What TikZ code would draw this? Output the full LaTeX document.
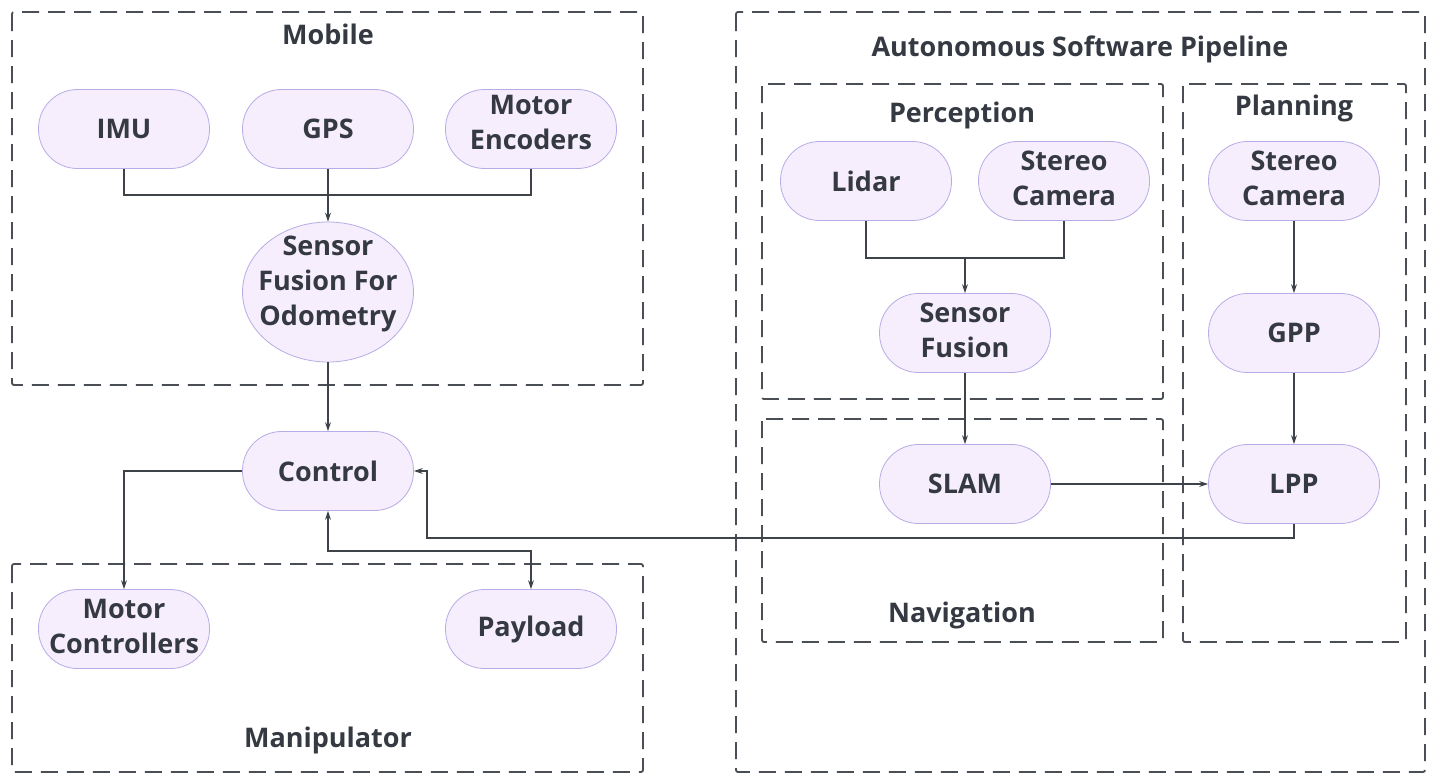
\documentclass[tikz,border=0pt]{standalone}
\usepackage{fontspec}
\setmainfont{Open Sans}
\usetikzlibrary{arrows.meta,shapes.geometric,calc}
\definecolor{ink}{HTML}{343942}
\definecolor{nodefill}{HTML}{F7EEFD}
\definecolor{nodeline}{HTML}{B6ACE6}
\definecolor{wire}{HTML}{3E4249}
\definecolor{groupline}{HTML}{4A4E55}
\tikzset{
  pill/.style={draw=nodeline, fill=nodefill, line width=0.8pt, rounded corners=39pt,
    minimum width=171pt, minimum height=79pt, inner sep=0pt, align=center,
    text=ink, font=\fontsize{27}{35}\selectfont\bfseries},
  twoline/.style={text depth=6pt},
  oval/.style={draw=nodeline, fill=nodefill, line width=0.8pt, ellipse,
    minimum width=171pt, minimum height=140pt, inner sep=0pt},
  txt/.style={text=ink, font=\fontsize{27}{35}\selectfont\bfseries, align=center, inner sep=0pt},
  group/.style={draw=groupline, line width=1.8pt, dash pattern=on 17pt off 9pt, rounded corners=2pt},
  wireline/.style={draw=wire, line width=1.3pt},
  arr/.style={wireline, -{Stealth[length=9pt,width=6pt]}},
  biarr/.style={wireline, {Stealth[length=9pt,width=6pt]}-{Stealth[length=9pt,width=6pt]}},
}
\begin{document}
\begin{tikzpicture}[x=1pt,y=-1pt]
\useasboundingbox (0,0) rectangle (1431,774);
\fill[white] (0,0) rectangle (1431,774);

% group frames
\draw[group] (12,12) rectangle (643,385);
\draw[group] (12,564) rectangle (643,772);
\draw[group] (736,12) rectangle (1425,772);
\draw[group] (762,84) rectangle (1163,399);
\draw[group] (762,419) rectangle (1163,642);
\draw[group] (1183,84) rectangle (1406,642);

% group titles
\node[txt] (tmobile) at (328,34) {Mobile};
\node[txt] (tmanip) at (328,740) {Manipulator};
\node[txt] (tauto) at (1080,49) {Autonomous Software Pipeline};
\node[txt] (tperc) at (962,115) {Perception};
\node[txt] (tnav) at (962,615) {Navigation};
\node[txt] (tplan) at (1294,108) {Planning};

% mobile sensors
\node[pill] (imu) at (124,129) {IMU};
\node[pill] (gps) at (328,129) {GPS};
\node[pill, text depth=14pt] (enc) at (531,129) {Motor\\Encoders};
\node[oval] (sfo) at (328,292) {};
\node[txt] (sfotext) at (328,284) {Sensor\\Fusion For\\Odometry};

% control and manipulator
\node[pill] (control) at (328,471) {Control};
\node[pill, twoline] (motorctl) at (124,629) {Motor\\Controllers};
\node[pill] (payload) at (531,629) {Payload};

% perception / navigation
\node[pill] (lidar) at (866,181) {Lidar};
\node[pill, twoline] (stereoA) at (1064,181) {Stereo\\Camera};
\node[pill, twoline] (fusion) at (965,333) {Sensor\\Fusion};
\node[pill] (slam) at (965,484) {SLAM};

% planning
\node[pill, twoline] (stereoB) at (1294,181) {Stereo\\Camera};
\node[pill] (gpp) at (1294,333) {GPP};
\node[pill] (lpp) at (1294,484) {LPP};

% junction points
\coordinate (jmob) at (328,195);
\coordinate (jperc) at (965,258);
\coordinate (jpay) at (531,551);
\coordinate (jret) at (427,538);

% connectors
\draw[wireline] (imu.south) |- (jmob);
\draw[wireline] (enc.south) |- (jmob);
\draw[arr] (gps.south) -- (sfo.north);
\draw[arr] (sfo.south) -- (control.north);
\draw[arr] (control.west) -| (motorctl.north);
\draw[biarr] (control.south) |- (jpay) -- (payload.north);
\draw[arr] (lpp.south) |- (jret) |- (control.east);

\draw[wireline] (lidar.south) |- (jperc);
\draw[wireline] (stereoA.south) |- (jperc);
\draw[arr] (jperc) -- (fusion.north);
\draw[arr] (fusion.south) -- (slam.north);
\draw[arr] (slam.east) -- (lpp.west);
\draw[arr] (stereoB.south) -- (gpp.north);
\draw[arr] (gpp.south) -- (lpp.north);
\end{tikzpicture}
\end{document}
